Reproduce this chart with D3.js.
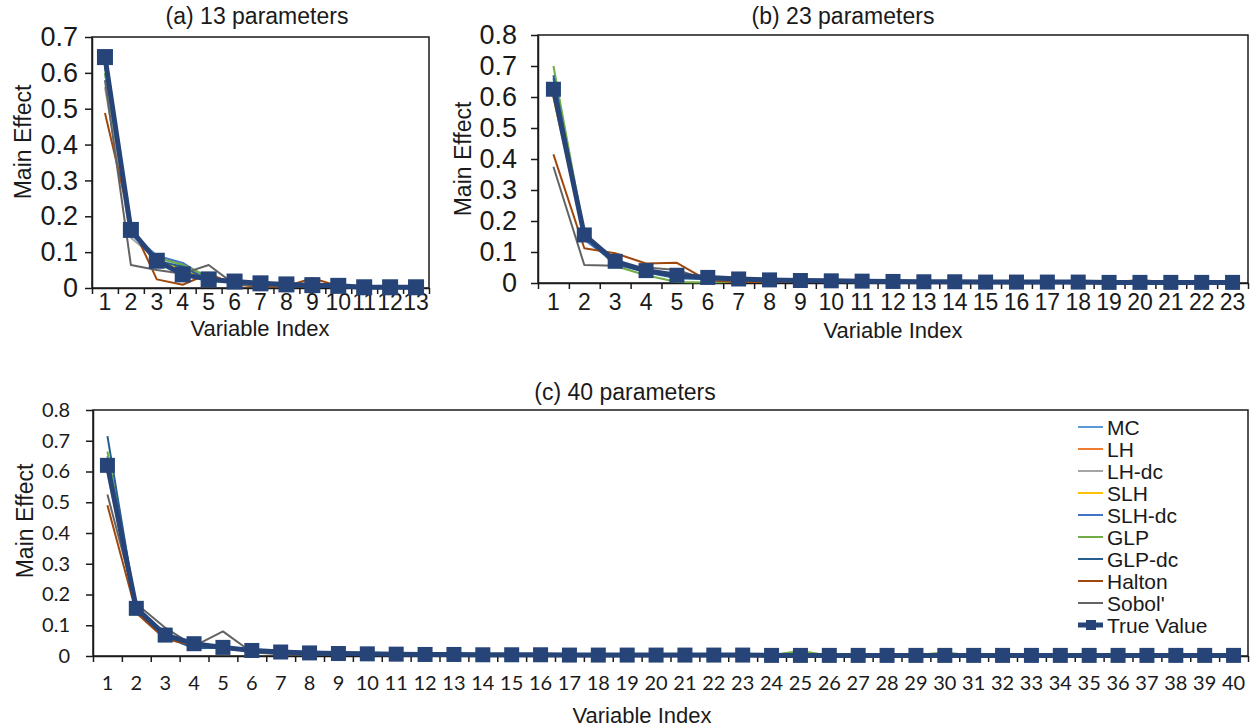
<!DOCTYPE html>
<html>
<head>
<meta charset="utf-8">
<script src="https://cdn.jsdelivr.net/npm/d3@7"></script>
<style>
  body { margin: 0; background: #fff; }
  svg { display: block; }
  text { fill: #1a1a1a; }
</style>
</head>
<body>
<svg id="chart" width="1258" height="727"></svg>
<script>
// series names / colours (Excel default palette)
const seriesNames = ["MC", "LH", "LH-dc", "SLH", "SLH-dc", "GLP", "GLP-dc", "Halton", "Sobol'"];
const seriesColors = ["#5b9bd5", "#ed7d31", "#a5a5a5", "#ffc000", "#4472c4", "#70ad47", "#255e91", "#9e480e", "#636363"];
const trueName = "True Value";
const trueColor = "#264478";

// categories (variable index)
const idx13 = [1,2,3,4,5,6,7,8,9,10,11,12,13];
const idx23 = [1,2,3,4,5,6,7,8,9,10,11,12,13,14,15,16,17,18,19,20,21,22,23];
const idx40 = [1,2,3,4,5,6,7,8,9,10,11,12,13,14,15,16,17,18,19,20,21,22,23,24,25,26,27,28,29,30,31,32,33,34,35,36,37,38,39,40];

// y tick labels
const yTicks07 = [0, 0.1, 0.2, 0.3, 0.4, 0.5, 0.6, 0.7];
const yTicks08 = [0, 0.1, 0.2, 0.3, 0.4, 0.5, 0.6, 0.7, 0.8];

// (a) 13 parameters, one row per series in seriesNames order
const vals13 = [
  [0.600, 0.150, 0.085, 0.065, 0.030, 0.020, 0.012, 0.008, 0.008, 0.006, 0.002, 0.002, 0.003],
  [0.620, 0.170, 0.070, 0.045, 0.035, 0.015, 0.010, 0.008, 0.010, 0.006, 0.002, 0.002, 0.002],
  [0.560, 0.140, 0.080, 0.055, 0.030, 0.018, 0.012, 0.010, 0.008, 0.005, 0.002, 0.002, 0.002],
  [0.630, 0.160, 0.080, 0.050, 0.028, 0.018, 0.012, 0.010, 0.008, 0.006, 0.002, 0.002, 0.002],
  [0.640, 0.155, 0.090, 0.070, 0.025, 0.020, 0.012, 0.010, 0.008, 0.006, 0.002, 0.002, 0.002],
  [0.600, 0.160, 0.085, 0.065, 0.030, 0.015, 0.010, 0.008, 0.010, 0.006, 0.003, 0.003, 0.004],
  [0.620, 0.165, 0.075, 0.060, 0.020, 0.022, 0.012, 0.010, 0.008, 0.006, 0.002, 0.002, 0.002],
  [0.488, 0.180, 0.024, 0.009, 0.040, 0.010, 0.003, 0.005, 0.027, 0.006, 0.002, 0.002, 0.003],
  [0.580, 0.064, 0.050, 0.040, 0.064, 0.010, 0.006, 0.006, 0.005, 0.006, 0.002, 0.002, 0.002]
];
const true13 = [0.644, 0.162, 0.076, 0.038, 0.024, 0.018, 0.013, 0.010, 0.008, 0.006, 0.002, 0.002, 0.002];

// (b) 23 parameters
const vals23 = [
  [0.640, 0.150, 0.065, 0.035, 0.020, 0.015, 0.012, 0.010, 0.008, 0.007, 0.006, 0.005, 0.004, 0.004, 0.003, 0.003, 0.003, 0.003, 0.002, 0.002, 0.002, 0.002, 0.002],
  [0.600, 0.160, 0.070, 0.040, 0.025, 0.016, 0.012, 0.009, 0.008, 0.007, 0.006, 0.005, 0.004, 0.004, 0.003, 0.003, 0.003, 0.003, 0.002, 0.003, 0.002, 0.002, 0.002],
  [0.630, 0.150, 0.068, 0.038, 0.024, 0.018, 0.012, 0.010, 0.008, 0.007, 0.006, 0.005, 0.004, 0.004, 0.003, 0.003, 0.003, 0.003, 0.002, 0.002, 0.002, 0.002, 0.002],
  [0.600, 0.150, 0.068, 0.040, 0.025, 0.018, 0.013, 0.010, 0.008, 0.007, 0.006, 0.005, 0.004, 0.004, 0.003, 0.003, 0.003, 0.002, 0.002, 0.002, 0.002, 0.002, 0.002],
  [0.660, 0.140, 0.065, 0.038, 0.022, 0.017, 0.012, 0.010, 0.008, 0.007, 0.006, 0.005, 0.004, 0.004, 0.003, 0.003, 0.003, 0.003, 0.002, 0.002, 0.002, 0.002, 0.002],
  [0.700, 0.160, 0.055, 0.025, 0.003, 0.002, 0.004, 0.006, 0.006, 0.006, 0.005, 0.005, 0.004, 0.004, 0.003, 0.003, 0.003, 0.003, 0.002, 0.002, 0.002, 0.002, 0.002],
  [0.670, 0.150, 0.060, 0.035, 0.015, 0.012, 0.011, 0.009, 0.008, 0.007, 0.006, 0.005, 0.004, 0.004, 0.003, 0.003, 0.003, 0.003, 0.002, 0.002, 0.002, 0.002, 0.002],
  [0.415, 0.112, 0.096, 0.063, 0.065, 0.008, 0.003, 0.003, 0.004, 0.005, 0.004, 0.003, 0.003, 0.003, 0.002, 0.002, 0.002, 0.002, 0.002, 0.010, 0.002, 0.002, 0.002],
  [0.375, 0.058, 0.056, 0.050, 0.042, 0.010, 0.008, 0.007, 0.006, 0.006, 0.005, 0.004, 0.004, 0.003, 0.003, 0.003, 0.003, 0.002, 0.002, 0.002, 0.002, 0.002, 0.002]
];
const true23 = [0.625, 0.155, 0.070, 0.040, 0.025, 0.018, 0.013, 0.010, 0.008, 0.007, 0.006, 0.005, 0.004, 0.004, 0.003, 0.003, 0.003, 0.003, 0.002, 0.002, 0.002, 0.002, 0.002];

// (c) 40 parameters
const vals40 = [
  [0.640, 0.150, 0.070, 0.032, 0.025, 0.016, 0.012, 0.010, 0.008, 0.007, 0.006, 0.005, 0.005, 0.004, 0.004, 0.003, 0.003, 0.003, 0.003, 0.003, 0.002, 0.003, 0.002, 0.002, 0.002, 0.002, 0.002, 0.002, 0.002, 0.002, 0.002, 0.002, 0.002, 0.002, 0.002, 0.002, 0.002, 0.002, 0.002, 0.002],
  [0.600, 0.145, 0.060, 0.038, 0.026, 0.017, 0.014, 0.009, 0.008, 0.006, 0.006, 0.005, 0.004, 0.004, 0.004, 0.003, 0.003, 0.003, 0.003, 0.002, 0.003, 0.002, 0.002, 0.002, 0.003, 0.002, 0.002, 0.002, 0.002, 0.003, 0.002, 0.002, 0.002, 0.002, 0.002, 0.002, 0.002, 0.002, 0.002, 0.002],
  [0.610, 0.160, 0.072, 0.036, 0.028, 0.016, 0.012, 0.010, 0.007, 0.007, 0.005, 0.005, 0.004, 0.004, 0.004, 0.003, 0.003, 0.003, 0.003, 0.003, 0.002, 0.002, 0.002, 0.002, 0.002, 0.002, 0.002, 0.002, 0.002, 0.002, 0.002, 0.002, 0.002, 0.002, 0.002, 0.002, 0.002, 0.002, 0.002, 0.002],
  [0.630, 0.150, 0.065, 0.040, 0.026, 0.018, 0.013, 0.010, 0.008, 0.007, 0.006, 0.005, 0.005, 0.004, 0.004, 0.003, 0.003, 0.003, 0.003, 0.003, 0.003, 0.002, 0.002, 0.002, 0.002, 0.002, 0.002, 0.002, 0.002, 0.002, 0.002, 0.002, 0.002, 0.002, 0.002, 0.002, 0.002, 0.002, 0.002, 0.002],
  [0.650, 0.155, 0.070, 0.030, 0.024, 0.017, 0.012, 0.010, 0.008, 0.007, 0.006, 0.005, 0.004, 0.004, 0.004, 0.003, 0.003, 0.003, 0.003, 0.002, 0.002, 0.002, 0.002, 0.002, 0.002, 0.002, 0.002, 0.002, 0.002, 0.002, 0.002, 0.002, 0.002, 0.002, 0.002, 0.002, 0.002, 0.002, 0.002, 0.002],
  [0.665, 0.160, 0.065, 0.035, 0.027, 0.015, 0.012, 0.010, 0.008, 0.007, 0.006, 0.005, 0.004, 0.004, 0.004, 0.003, 0.003, 0.003, 0.003, 0.002, 0.003, 0.002, 0.002, 0.003, 0.016, 0.002, 0.002, 0.002, 0.003, 0.011, 0.002, 0.002, 0.002, 0.002, 0.002, 0.002, 0.002, 0.002, 0.002, 0.002],
  [0.715, 0.150, 0.062, 0.025, 0.027, 0.018, 0.013, 0.010, 0.008, 0.007, 0.006, 0.005, 0.005, 0.004, 0.004, 0.003, 0.003, 0.003, 0.003, 0.003, 0.002, 0.002, 0.002, 0.002, 0.002, 0.002, 0.002, 0.002, 0.002, 0.002, 0.002, 0.002, 0.002, 0.002, 0.002, 0.002, 0.002, 0.002, 0.002, 0.002],
  [0.490, 0.140, 0.055, 0.035, 0.030, 0.020, 0.016, 0.010, 0.008, 0.007, 0.006, 0.005, 0.004, 0.004, 0.003, 0.003, 0.003, 0.003, 0.003, 0.002, 0.002, 0.002, 0.002, 0.002, 0.002, 0.002, 0.002, 0.002, 0.002, 0.002, 0.002, 0.002, 0.002, 0.002, 0.002, 0.002, 0.002, 0.002, 0.002, 0.002],
  [0.525, 0.170, 0.092, 0.032, 0.080, 0.012, 0.006, 0.005, 0.006, 0.006, 0.005, 0.005, 0.004, 0.004, 0.004, 0.003, 0.003, 0.003, 0.003, 0.002, 0.002, 0.002, 0.002, 0.002, 0.002, 0.002, 0.002, 0.002, 0.002, 0.002, 0.002, 0.002, 0.002, 0.002, 0.002, 0.002, 0.002, 0.002, 0.002, 0.002]
];
const true40 = [0.620, 0.155, 0.068, 0.040, 0.028, 0.018, 0.013, 0.010, 0.008, 0.007, 0.006, 0.005, 0.005, 0.004, 0.004, 0.004, 0.003, 0.003, 0.003, 0.003, 0.003, 0.003, 0.003, 0.002, 0.002, 0.002, 0.002, 0.002, 0.002, 0.002, 0.002, 0.002, 0.002, 0.002, 0.002, 0.002, 0.002, 0.002, 0.002, 0.002];

const svg = d3.select("#chart");
const ARIAL = "'Liberation Sans', Arial, sans-serif";

function fmtY(d) { return d === 0 ? "0" : d.toFixed(1); }

function drawPanel(p) {
  const g = svg.append("g");

  const x = d3.scaleBand().domain(p.cats).range([p.left, p.right]).padding(0);
  const xEdge = d3.scaleLinear().domain([0, p.cats.length]).range([p.left, p.right]);
  const y = d3.scaleLinear().domain([0, p.ymax]).range([p.bottom, p.top]);
  const cx = (i) => x(p.cats[i]) + x.bandwidth() / 2;

  // plot frame
  g.append("rect")
    .attr("x", p.left).attr("y", p.top)
    .attr("width", p.right - p.left).attr("height", p.bottom - p.top)
    .attr("fill", "none").attr("stroke", "#1a1a1a").attr("stroke-width", 1.5);

  // x tick marks between categories
  const xTickAxis = g.append("g")
    .attr("transform", "translate(0," + p.bottom + ")")
    .call(d3.axisBottom(xEdge).tickValues(d3.range(p.cats.length + 1)).tickFormat("").tickSize(6).tickSizeOuter(0));
  xTickAxis.select(".domain").attr("stroke", "#1a1a1a").attr("stroke-width", 1.5);
  xTickAxis.selectAll(".tick line").attr("stroke", "#1a1a1a").attr("stroke-width", 1.5);

  // x tick labels at category centres
  const xLab = g.append("g")
    .attr("transform", "translate(0," + p.bottom + ")")
    .call(d3.axisBottom(x).tickSize(0).tickPadding(p.xLabPad));
  xLab.select(".domain").remove();
  xLab.selectAll("text")
    .style("font-family", p.tickFont).style("font-size", p.tickSize + "px").style("fill", "#1a1a1a");

  // y axis
  const yAx = g.append("g")
    .attr("transform", "translate(" + p.left + ",0)")
    .call(d3.axisLeft(y).tickValues(p.yTicks).tickFormat(fmtY).tickSize(7).tickSizeOuter(0).tickPadding(p.yLabPad));
  yAx.select(".domain").attr("stroke", "#1a1a1a").attr("stroke-width", 1.5);
  yAx.selectAll(".tick line").attr("stroke", "#1a1a1a").attr("stroke-width", 1.5);
  yAx.selectAll("text")
    .style("font-family", p.tickFont).style("font-size", p.yTickSize + "px").style("fill", "#1a1a1a");

  // series lines
  const line = d3.line().x((d, i) => cx(i)).y(d => y(d));
  p.vals.forEach((v, k) => {
    g.append("path")
      .datum(v)
      .attr("d", line)
      .attr("fill", "none")
      .attr("stroke", seriesColors[k])
      .attr("stroke-width", 2)
      .attr("stroke-linejoin", "round");
  });

  // true value
  g.append("path")
    .datum(p.truth)
    .attr("d", line)
    .attr("fill", "none")
    .attr("stroke", trueColor)
    .attr("stroke-width", 5)
    .attr("stroke-linejoin", "round");
  g.selectAll(".mk")
    .data(p.truth)
    .enter().append("rect")
      .attr("class", "mk")
      .attr("x", (d, i) => cx(i) - p.mk / 2)
      .attr("y", d => y(d) - p.mk / 2)
      .attr("width", p.mk).attr("height", p.mk)
      .attr("fill", trueColor);

  // titles
  g.append("text")
    .text(p.title)
    .attr("x", p.titleX).attr("y", p.titleY)
    .style("text-anchor", "middle")
    .style("font-family", ARIAL).style("font-size", "23px");

  g.append("text")
    .text("Variable Index")
    .attr("x", p.xTitleX).attr("y", p.xTitleY)
    .style("text-anchor", "middle")
    .style("font-family", ARIAL).style("font-size", "22px");

  g.append("text")
    .text("Main Effect")
    .attr("transform", "translate(" + p.yTitleX + "," + p.yTitleY + ") rotate(-90)")
    .style("text-anchor", "middle")
    .style("font-family", ARIAL).style("font-size", "23px");

  return { x: x, y: y, g: g };
}

drawPanel({
  cats: idx13, vals: vals13, truth: true13, yTicks: yTicks07, ymax: 0.7,
  left: 92, right: 429, top: 37, bottom: 288,
  tickFont: ARIAL, tickSize: 23, yTickSize: 27, xLabPad: 6, yLabPad: 7, mk: 16,
  title: "(a) 13 parameters", titleX: 257, titleY: 24,
  xTitleX: 260, xTitleY: 336, yTitleX: 31, yTitleY: 142
});

drawPanel({
  cats: idx23, vals: vals23, truth: true23, yTicks: yTicks08, ymax: 0.8,
  left: 538, right: 1248, top: 35, bottom: 283,
  tickFont: ARIAL, tickSize: 23, yTickSize: 27, xLabPad: 11, yLabPad: 14, mk: 15,
  title: "(b) 23 parameters", titleX: 843, titleY: 24,
  xTitleX: 893, xTitleY: 338, yTitleX: 471, yTitleY: 159
});

drawPanel({
  cats: idx40, vals: vals40, truth: true40, yTicks: yTicks08, ymax: 0.8,
  left: 93, right: 1248, top: 410, bottom: 656,
  tickFont: "Lato, 'Open Sans', sans-serif", tickSize: 20, yTickSize: 20, xLabPad: 20, yLabPad: 16, mk: 15,
  title: "(c) 40 parameters", titleX: 625, titleY: 400,
  xTitleX: 642, xTitleY: 723, yTitleX: 33, yTitleY: 521
});

// legend inside panel (c)
const legendNames = seriesNames.concat([trueName]);
const legendColors = seriesColors.concat([trueColor]);
const leg = svg.append("g").attr("transform", "translate(1078,427)");
const row = leg.selectAll("g")
  .data(legendNames)
  .enter().append("g")
    .attr("transform", (d, i) => "translate(0," + (i * 22) + ")");
row.append("line")
  .attr("x1", 0).attr("x2", 25).attr("y1", 0).attr("y2", 0)
  .attr("stroke", (d, i) => legendColors[i])
  .attr("stroke-width", (d, i) => i === legendNames.length - 1 ? 5 : 2);
row.filter((d, i) => i === legendNames.length - 1)
  .append("rect")
    .attr("x", 8).attr("y", -5).attr("width", 10).attr("height", 10)
    .attr("fill", trueColor);
row.append("text")
  .text(d => d)
  .attr("x", 29).attr("y", 0).attr("dy", "0.36em")
  .style("font-family", ARIAL).style("font-size", "21px");
</script>
</body>
</html>
